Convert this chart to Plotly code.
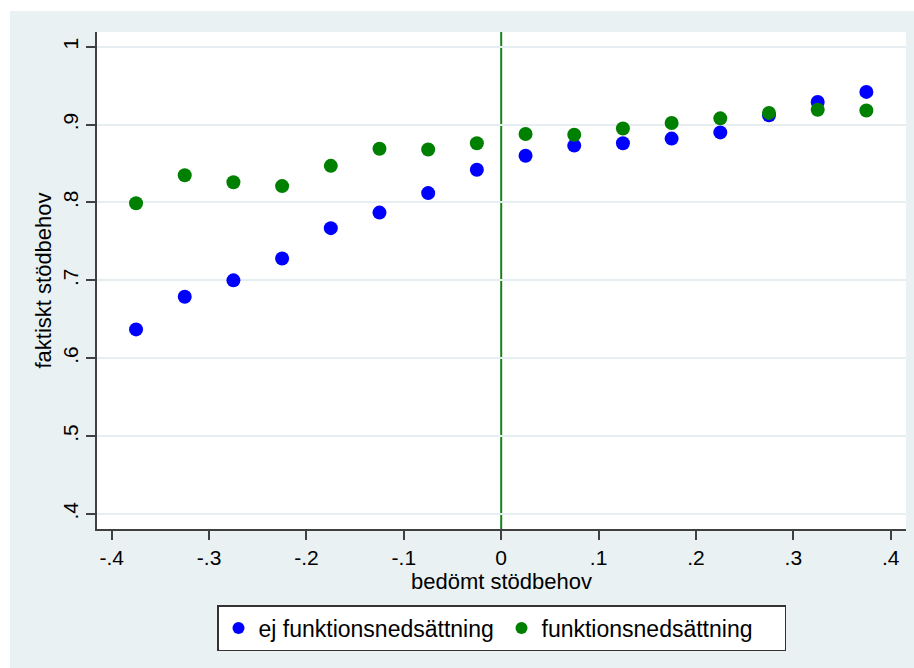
import plotly.graph_objects as go

x_bins = [-0.375, -0.325, -0.275, -0.225, -0.175, -0.125, -0.075, -0.025,
          0.025, 0.075, 0.125, 0.175, 0.225, 0.275, 0.325, 0.375]
ej_funk = [0.637, 0.679, 0.700, 0.728, 0.767, 0.787, 0.812, 0.842,
           0.860, 0.873, 0.876, 0.882, 0.890, 0.912, 0.929, 0.942]
funk = [0.799, 0.835, 0.826, 0.821, 0.847, 0.869, 0.868, 0.876,
        0.888, 0.887, 0.895, 0.902, 0.908, 0.915, 0.919, 0.918]

x_ticks = [-0.4, -0.3, -0.2, -0.1, 0, 0.1, 0.2, 0.3, 0.4]
x_tick_labels = ["-.4", "-.3", "-.2", "-.1", "0", ".1", ".2", ".3", ".4"]
y_ticks = [0.4, 0.5, 0.6, 0.7, 0.8, 0.9, 1.0]
y_tick_labels = [".4", ".5", ".6", ".7", ".8", ".9", "1"]

series_names = ["ej funktionsnedsättning", "funktionsnedsättning"]
BG = "#eaf1f3"
FONT = "Liberation Sans, Arial, sans-serif"

fig = go.Figure()
fig.add_trace(go.Scatter(x=x_bins, y=ej_funk, mode="markers", name=series_names[0],
                         marker=dict(color="#0000ff", size=14)))
fig.add_trace(go.Scatter(x=x_bins, y=funk, mode="markers", name=series_names[1],
                         marker=dict(color="#008000", size=14)))

fig.add_shape(type="line", xref="x", yref="paper", x0=0, x1=0, y0=0, y1=1,
              line=dict(color="#1a801a", width=2), layer="below")
# white outer strips (top and left)
fig.add_shape(type="rect", xref="paper", yref="paper", x0=-0.2, x1=1.1,
              y0=(529 - 11) / 497, y1=1.1, fillcolor="white", line_width=0, layer="below")
fig.add_shape(type="rect", xref="paper", yref="paper", x0=-0.2, x1=(10 - 97) / 809,
              y0=-0.4, y1=1.1, fillcolor="white", line_width=0, layer="below")

fig.update_layout(
    width=914, height=668,
    margin=dict(l=97, r=8, t=32, b=139),
    paper_bgcolor=BG, plot_bgcolor="white",
    font=dict(family=FONT, color="black", size=21),
    showlegend=True,
    legend=dict(orientation="h", x=0.5, xanchor="center", y=-0.153, yanchor="top",
                bgcolor="white", bordercolor="#333333", borderwidth=1.5,
                font=dict(size=23), itemsizing="constant", entrywidth=238),
    xaxis=dict(range=[-0.4151, 0.4157], tickvals=x_ticks, ticktext=x_tick_labels,
               showgrid=False, zeroline=False, showline=True, linecolor="#404040",
               linewidth=1.5, ticks="outside", ticklen=9, tickcolor="#404040", tickwidth=1.5,
               title=dict(text="bedömt stödbehov", font=dict(size=22), standoff=0)),
    yaxis=dict(range=[0.38074, 1.01888], tickvals=y_ticks, ticktext=y_tick_labels,
               showgrid=True, gridcolor="#e6eef1", gridwidth=1.5, zeroline=False,
               showline=True, linecolor="#404040", linewidth=1.5, ticks="outside",
               ticklen=9, tickcolor="#404040", tickwidth=1.5, tickangle=-90,
               title=dict(text="faktiskt stödbehov", font=dict(size=22), standoff=1)),
)

fig.write_html("out.html")
